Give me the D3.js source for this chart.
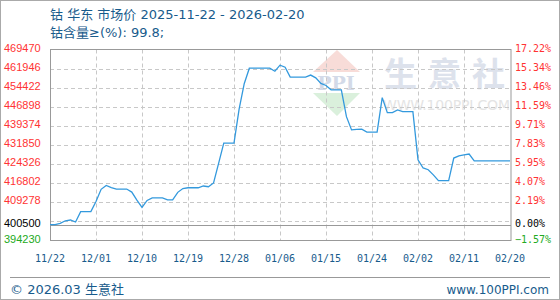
<!DOCTYPE html>
<html>
<head>
<meta charset="utf-8">
<script src="https://cdn.jsdelivr.net/npm/d3@7"></script>
<style>
  body { margin: 0; background: #fff; }
  svg { display: block; }
</style>
</head>
<body>
<svg></svg>
<script>
const width = 560;
const height = 300;

// 钴 华东 市场价, daily, 2025-11-22 .. 2026-02-20
const startDate = "2025-11-22";
const endDate = "2026-02-20";
const prices = [
    400500, 400500, 401000, 402000, 402300, 401500, 405600, 405600, 405600, 409600,
    414400, 415900, 415100, 414500, 414500, 414500, 413300, 410100, 407300, 410000,
    411000, 411000, 411000, 410200, 410200, 413200, 414700, 415000, 415000, 415000,
    415700, 415400, 416900, 424700, 432600, 432600, 432600, 446000, 456000, 462100,
    462100, 462100, 462100, 462100, 460900, 463300, 462500, 458600, 458600, 458600,
    458600, 459400, 458300, 456100, 455300, 453600, 453600, 453600, 443000, 437800,
    438000, 438100, 436900, 436900, 436900, 450500, 444600, 444600, 445700, 445000,
    445000, 445000, 426000, 422800, 422100, 420100, 417800, 417800, 417800, 426700,
    427600, 428000, 428300, 425600, 425600, 425600, 425600, 425600, 425600, 425600,
    425600
];
const baseValue = 400500;
const yMin = 394230;
const yMax = 469470;
const gridValues = [401754, 409278, 416802, 424326, 431850, 439374, 446898, 454422, 461946];
const leftLabels = [469470, 461946, 454422, 446898, 439374, 431850, 424326, 416802, 409278, 400500, 394230];
const xTickLabels = ["11/22", "12/01", "12/10", "12/19", "12/28", "01/06", "01/15", "01/24", "02/02", "02/11", "02/20"];

const parseDate = d3.timeParse("%Y-%m-%d");
const dates = d3.timeDay.range(parseDate(startDate), d3.timeDay.offset(parseDate(endDate), 1));
const series = dates.map((d, i) => ({date: d, value: prices[i]}));

const plot = {left: 50, right: 510, top: 49.5, bottom: 240.5};

const svg = d3.select("svg")
    .attr("width", width)
    .attr("height", height);

const x = d3.scaleTime()
    .domain([parseDate(startDate), parseDate(endDate)])
    .range([plot.left, plot.right]);

const y = d3.scaleLinear()
    .domain([yMin, yMax])
    .range([plot.bottom, plot.top]);

const blue = "#185b8c";
const cjk = "'DejaVu Sans', 'Noto Sans CJK SC', sans-serif";

// outer border
svg.append("rect")
    .attr("x", 0.5).attr("y", 0.5)
    .attr("width", width - 1).attr("height", height - 1)
    .attr("fill", "#fff")
    .attr("stroke", "#aaa");

// title
svg.append("text")
    .attr("x", 50).attr("y", 19)
    .attr("font-family", cjk)
    .attr("font-size", 13)
    .attr("fill", blue)
    .text("钴 华东 市场价 2025-11-22 - 2026-02-20");
svg.append("text")
    .attr("x", 50).attr("y", 37)
    .attr("font-family", cjk)
    .attr("font-size", 13)
    .attr("fill", blue)
    .text("钴含量≥(%): 99.8;");

// watermark
const wm = svg.append("g");
wm.append("path")
    .attr("d", "M313,72 L337,50 L360,72 Z")
    .attr("fill", "#f8dcd8");
wm.append("path")
    .attr("d", "M313,93 L360,93 L337,116 Z")
    .attr("fill", "#daf0dc");
wm.append("text")
    .attr("x", 336).attr("y", 90)
    .attr("text-anchor", "middle")
    .attr("font-family", "'DejaVu Serif', serif")
    .attr("font-size", 19)
    .attr("font-weight", "bold")
    .attr("fill", "#d3dae8")
    .text("PPI");
wm.append("text")
    .attr("x", 384).attr("y", 86)
    .attr("font-family", "'Noto Sans CJK SC', sans-serif")
    .attr("font-size", 33)
    .attr("font-weight", "bold")
    .attr("letter-spacing", 11)
    .attr("fill", "#dde2ec")
    .text("生意社");
wm.append("text")
    .attr("x", 383).attr("y", 110)
    .attr("font-family", "'DejaVu Sans', sans-serif")
    .attr("font-size", 14)
    .attr("textLength", 127)
    .attr("fill", "#e4e4e4")
    .text("WWW.100PPI.COM");

// grid
const grid = svg.append("g")
    .attr("stroke", "#c8c8c8")
    .attr("stroke-dasharray", "4,3");
grid.selectAll(".hgrid")
    .data(gridValues)
    .enter().append("line")
    .attr("class", "hgrid")
    .attr("x1", plot.left).attr("x2", plot.right)
    .attr("y1", d => Math.round(y(d)) + 0.5)
    .attr("y2", d => Math.round(y(d)) + 0.5);

const tickDates = xTickLabels.map((t, i) => d3.timeDay.offset(parseDate(startDate), i * 9));
grid.selectAll(".vgrid")
    .data(tickDates.slice(1, -1))
    .enter().append("line")
    .attr("class", "vgrid")
    .attr("x1", d => Math.round(x(d)) + 0.5)
    .attr("x2", d => Math.round(x(d)) + 0.5)
    .attr("y1", plot.top).attr("y2", plot.bottom);

// frame + base line
svg.append("rect")
    .attr("x", plot.left + 0.5).attr("y", plot.top)
    .attr("width", plot.right - plot.left + 0.5)
    .attr("height", plot.bottom - plot.top)
    .attr("fill", "none")
    .attr("stroke", "#999");
svg.append("line")
    .attr("x1", plot.left).attr("x2", plot.right + 1)
    .attr("y1", Math.round(y(baseValue)) + 0.5)
    .attr("y2", Math.round(y(baseValue)) + 0.5)
    .attr("stroke", "#999");

// price line
const line = d3.line()
    .x(d => x(d.date))
    .y(d => y(d.value));
svg.append("path")
    .datum(series)
    .attr("d", line)
    .attr("fill", "none")
    .attr("stroke", "#3399dd")
    .attr("stroke-width", 1.3);

// left axis labels
const labelColor = v => v > baseValue ? "#ff3333" : (v < baseValue ? "#22aa22" : "#000");
svg.append("g")
    .selectAll("text")
    .data(leftLabels)
    .enter().append("text")
    .attr("x", 4)
    .attr("y", d => y(d) + 2)
    .attr("font-family", "'Liberation Sans', Arial, sans-serif")
    .attr("font-size", 11)
    .attr("fill", labelColor)
    .text(d => d);

// right axis labels (percent change vs base)
const pct = d3.format(".2f");
svg.append("g")
    .selectAll("text")
    .data(leftLabels)
    .enter().append("text")
    .attr("x", 515)
    .attr("y", d => y(d) + 2)
    .attr("font-family", "'DejaVu Sans Mono', monospace")
    .attr("font-size", 10)
    .attr("fill", labelColor)
    .text(d => pct((d - baseValue) / baseValue * 100) + "%");

// x axis labels
svg.append("g")
    .selectAll("text")
    .data(xTickLabels)
    .enter().append("text")
    .attr("x", (d, i) => x(tickDates[i]))
    .attr("y", 262)
    .attr("text-anchor", "middle")
    .attr("font-family", "'DejaVu Sans Mono', monospace")
    .attr("font-size", 10)
    .attr("fill", blue)
    .text(d => d);

// footer
svg.append("line")
    .attr("x1", 10).attr("x2", 550)
    .attr("y1", 277.5).attr("y2", 277.5)
    .attr("stroke", "#999");
svg.append("text")
    .attr("x", 10).attr("y", 294)
    .attr("font-family", cjk)
    .attr("font-size", 13)
    .attr("fill", blue)
    .text("© 2026.03 生意社");
svg.append("text")
    .attr("x", 549).attr("y", 294)
    .attr("text-anchor", "end")
    .attr("font-family", "'DejaVu Sans', sans-serif")
    .attr("font-size", 12)
    .attr("fill", blue)
    .text("www.100PPI.com");
</script>
</body>
</html>
